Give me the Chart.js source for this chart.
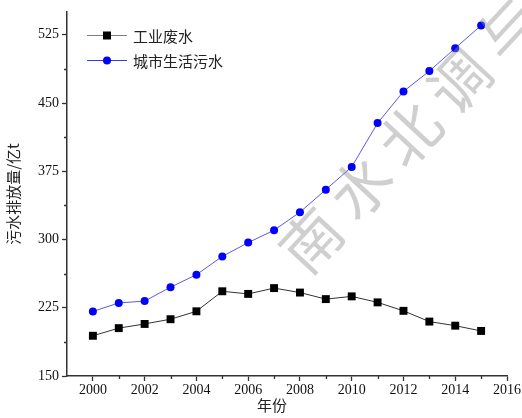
<!DOCTYPE html>
<html>
<head>
<meta charset="utf-8">
<script src="https://cdn.jsdelivr.net/npm/chart.js@4.4.1/dist/chart.umd.min.js"></script>
<style>
  html, body { margin: 0; padding: 0; background: #fff; }
  #wrap { width: 522px; height: 418px; }
</style>
</head>
<body>
<div id="wrap"><canvas id="c" width="522" height="418"></canvas></div>
<script>
// 年份与两类污水排放量（亿t）
const years = [2000, 2001, 2002, 2003, 2004, 2005, 2006, 2007, 2008, 2009, 2010, 2011, 2012, 2013, 2014, 2015];
const industrialWaste = [194.2, 202.6, 207.2, 212.4, 221.1, 243.1, 240.2, 246.6, 241.7, 234.5, 237.5, 230.9, 221.6, 209.8, 205.3, 199.5];
const urbanDomestic = [220.9, 230.3, 232.3, 247.6, 261.3, 281.4, 296.6, 310.2, 330.0, 354.8, 379.8, 427.9, 462.7, 485.1, 510.3, 535.2];

const seriesNames = ['工业废水', '城市生活污水'];
const xTicks = [2000, 2002, 2004, 2006, 2008, 2010, 2012, 2014, 2016];
const xMinorTicks = [2001, 2003, 2005, 2007, 2009, 2011, 2013, 2015];
const yTicks = [150, 225, 300, 375, 450, 525];
const yMinorTicks = [187.5, 262.5, 337.5, 412.5, 487.5];
const xTitle = '年份';
const yTitle = '污水排放量/亿t';
const watermark = '南水北调与水利科技';

const axisColor = '#333333';
const legendLineColors = ['#808080', '#3a3ad8'];
const serifFont = "'Liberation Serif', 'Times New Roman', serif";
const cjkFont = "'Noto Sans CJK SC', 'Noto Sans', sans-serif";

const toPoints = (vals) => vals.map((v, i) => ({ x: years[i], y: v }));

// 次刻度
const minorTicks = {
  id: 'minorTicks',
  afterDraw(chart) {
    const { ctx, scales: { x, y } } = chart;
    ctx.save();
    ctx.strokeStyle = axisColor;
    ctx.lineWidth = 1.3;
    ctx.beginPath();
    xMinorTicks.forEach(v => {
      const px = Math.round(x.getPixelForValue(v)) + 0.5;
      ctx.moveTo(px, x.top);
      ctx.lineTo(px, x.top + 3);
    });
    yMinorTicks.forEach(v => {
      const py = Math.round(y.getPixelForValue(v)) + 0.5;
      ctx.moveTo(y.right, py);
      ctx.lineTo(y.right - 3, py);
    });
    ctx.stroke();
    ctx.restore();
  }
};

// 图例（线段 + 标记）
const insideLegend = {
  id: 'insideLegend',
  afterDatasetsDraw(chart) {
    const { ctx, chartArea } = chart;
    ctx.save();
    chart.data.datasets.forEach((ds, i) => {
      const yy = chartArea.top + 23 + i * 25;
      const x0 = chartArea.left + 20;
      const x1 = x0 + 40;
      ctx.strokeStyle = legendLineColors[i];
      ctx.lineWidth = 1;
      ctx.beginPath();
      ctx.moveTo(x0, yy + 0.5);
      ctx.lineTo(x1, yy + 0.5);
      ctx.stroke();
      const mx = (x0 + x1) / 2;
      ctx.fillStyle = ds.pointBackgroundColor;
      ctx.beginPath();
      if (ds.pointStyle === 'rect') {
        ctx.rect(mx - 4, yy - 3.5, 8, 8);
      } else {
        ctx.arc(mx, yy + 0.5, 4, 0, Math.PI * 2);
      }
      ctx.fill();
      ctx.fillStyle = '#222';
      ctx.font = '15px ' + cjkFont;
      ctx.textAlign = 'left';
      ctx.textBaseline = 'middle';
      ctx.fillText(ds.label, x1 + 6, yy + 1);
    });
    ctx.restore();
  }
};

// 横轴标题
const xAxisTitle = {
  id: 'xAxisTitle',
  afterDraw(chart) {
    const { ctx, chartArea } = chart;
    ctx.save();
    ctx.fillStyle = '#222';
    ctx.font = '15px ' + cjkFont;
    ctx.textAlign = 'center';
    ctx.textBaseline = 'middle';
    ctx.fillText(xTitle, (chartArea.left + chartArea.right) / 2 - 15, chartArea.bottom + 29);
    ctx.restore();
  }
};

// 水印
const watermarkText = {
  id: 'watermarkText',
  afterDraw(chart) {
    const { ctx } = chart;
    const ang = -47 * Math.PI / 180;
    const step = 72.5;
    const cx0 = 311, cy0 = 240;
    ctx.save();
    ctx.fillStyle = 'rgba(140,140,140,0.42)';
    ctx.font = '400 60px ' + cjkFont;
    ctx.textAlign = 'center';
    ctx.textBaseline = 'middle';
    Array.from(watermark).forEach((ch, i) => {
      const cx = cx0 + Math.cos(ang) * step * i;
      const cy = cy0 + Math.sin(ang) * step * i;
      ctx.save();
      ctx.translate(cx, cy);
      ctx.rotate(ang);
      ctx.fillText(ch, 0, 0);
      ctx.restore();
    });
    ctx.restore();
  }
};

new Chart(document.getElementById('c'), {
  type: 'line',
  data: {
    datasets: [
      {
        label: seriesNames[0],
        data: toPoints(industrialWaste),
        borderColor: '#333333',
        borderWidth: 1,
        pointStyle: 'rect',
        pointRadius: 5.6,
        pointBorderWidth: 0,
        pointBackgroundColor: '#000000',
        pointBorderColor: '#000000',
        tension: 0
      },
      {
        label: seriesNames[1],
        data: toPoints(urbanDomestic),
        borderColor: '#5a5ae0',
        borderWidth: 1,
        pointStyle: 'circle',
        pointRadius: 4,
        pointBorderWidth: 0,
        pointBackgroundColor: '#0000ff',
        pointBorderColor: '#0000ff',
        tension: 0
      }
    ]
  },
  options: {
    responsive: false,
    animation: false,
    events: [],
    layout: { padding: { top: 12, right: 15, left: 0, bottom: 0 } },
    plugins: {
      legend: { display: false },
      tooltip: { enabled: false }
    },
    scales: {
      x: {
        type: 'linear',
        min: 1999,
        max: 2016,
        afterBuildTicks: (s) => { s.ticks = xTicks.map(v => ({ value: v })); },
        afterFit: (s) => { s.height = 42; s.paddingLeft = 0; s.paddingRight = 0; },
        grid: { display: true, drawOnChartArea: false, drawTicks: true, tickLength: 5, tickColor: axisColor, tickWidth: 1.3 },
        border: { display: true, color: axisColor, width: 1.5 },
        ticks: {
          color: '#111',
          font: { family: serifFont, size: 14 },
          padding: 1,
          maxRotation: 0,
          autoSkip: false,
          callback: (v) => String(v)
        }
      },
      y: {
        type: 'linear',
        min: 150,
        max: 550,
        afterBuildTicks: (s) => { s.ticks = yTicks.map(v => ({ value: v })); },
        afterFit: (s) => { s.width = 67; s.paddingTop = 0; s.paddingBottom = 0; },
        grid: { display: true, drawOnChartArea: false, drawTicks: true, tickLength: 5, tickColor: axisColor, tickWidth: 1.3 },
        border: { display: true, color: axisColor, width: 1.5 },
        title: {
          display: true,
          text: yTitle,
          color: '#222',
          font: { family: cjkFont, size: 15 },
          padding: { top: 4, bottom: 0 }
        },
        ticks: {
          color: '#111',
          font: { family: serifFont, size: 14 },
          padding: 3,
          autoSkip: false,
          callback: (v) => String(v)
        }
      }
    }
  },
  plugins: [minorTicks, insideLegend, xAxisTitle, watermarkText]
});
</script>
</body>
</html>
